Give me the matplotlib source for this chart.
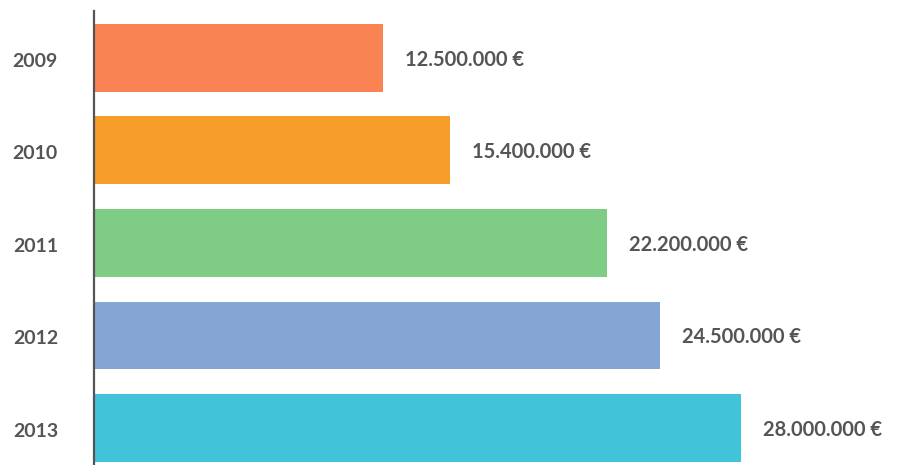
import numpy as np
import matplotlib
matplotlib.use('Agg')
import matplotlib.pyplot as plt

years = ['2009', '2010', '2011', '2012', '2013']
values = [12.5, 15.4, 22.2, 24.5, 28.0]  # millions of euro
labels = ['12.500.000 €', '15.400.000 €', '22.200.000 €', '24.500.000 €', '28.000.000 €']
colors = ['#F98352', '#F59D28', '#7FCC85', '#85A5D4', '#41C4DA']

TXT = '#555555'
plt.rcParams['font.family'] = ['Lato', 'DejaVu Sans']

fig = plt.figure(figsize=(9.06, 4.65), dpi=100)
ax = fig.add_axes([94 / 906, 0, 812 / 906, 454 / 465])

pos = np.arange(len(years))
ax.barh(pos, values, height=0.735, color=colors)
ax.set_ylim(4.4, -0.508)
ax.set_xlim(0, 35.14)

# value labels, a bit right of each bar end
for p, v, lab in zip(pos, values, labels):
    ax.annotate(lab, (v, p), xytext=(22, -2), textcoords='offset pixels',
                va='center', ha='left', fontsize=14.5, fontweight='bold', color=TXT)

ax.set_yticks(pos + 0.02)
ax.set_yticklabels(years, fontsize=14, fontweight='bold', color=TXT)
ax.tick_params(axis='y', length=0, pad=26)
ax.set_xticks([])

for s in ['top', 'right', 'bottom']:
    ax.spines[s].set_visible(False)
ax.spines['left'].set_color(TXT)
ax.spines['left'].set_linewidth(1.6)

fig.savefig('out.png', dpi=100)
